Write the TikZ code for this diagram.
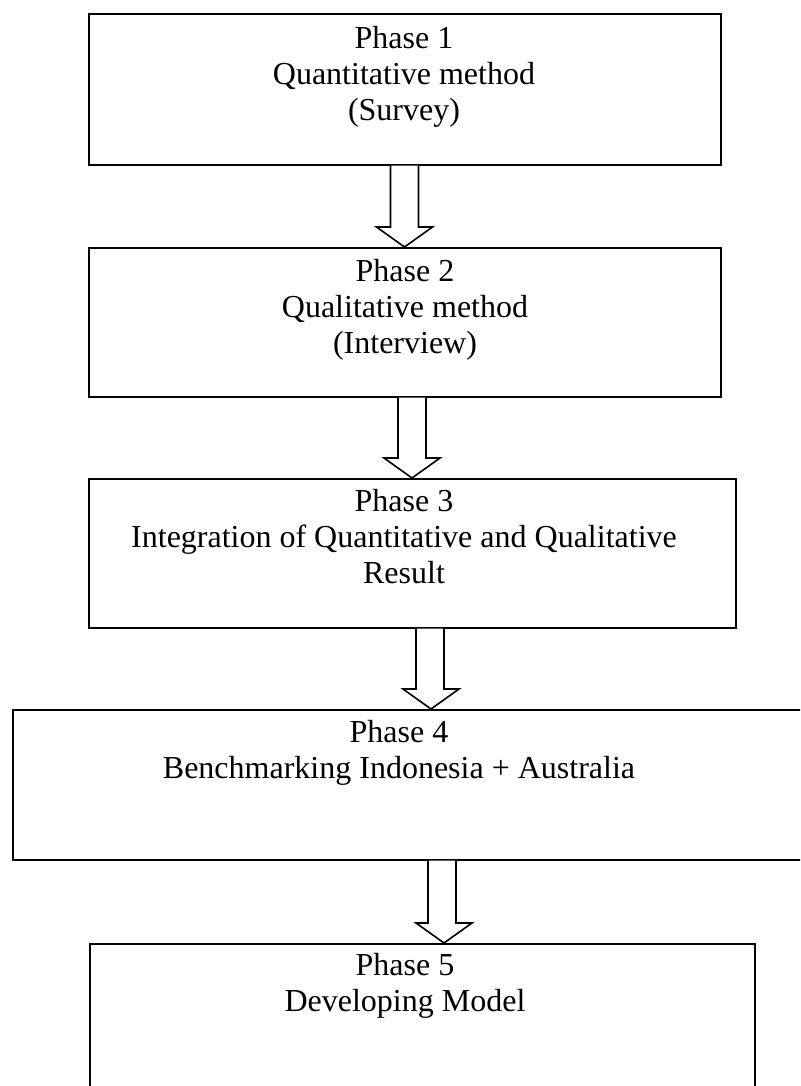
\documentclass[tikz,border=0pt]{standalone}
\usepackage{fontspec}
\setmainfont{Liberation Serif}
\usetikzlibrary{calc}
\tikzset{
  box/.style={draw, line width=1.6pt, minimum width=#1, anchor=north west, inner sep=0pt},
  txt/.style={align=center, inner sep=0pt, anchor=north, font=\fontsize{32}{36}\selectfont},
  blockarrow/.style={draw, line width=1.6pt, fill=white, line join=miter}
}
% #1 start (on upper box), #2 end (tip on lower box)
\newcommand\blockarr[2]{%
  \draw[blockarrow] let \p1=(#1), \p2=(#2) in
    (\x1-14,\y1) -- (\x1-14,\y2+20) -- (\x2-28,\y2+20) -- (\x2,\y2)
    -- (\x2+28,\y2+20) -- (\x1+14,\y2+20) -- (\x1+14,\y1);}
\begin{document}
\begin{tikzpicture}[x=1pt,y=1pt]
\useasboundingbox (0,0) rectangle (800,-1086);
\clip (0,0) rectangle (800,-1086);
% boxes
\node[box=632pt, minimum height=151pt] (b1) at (88,-13) {};
\node[box=632pt, minimum height=149pt] (b2) at (88,-247) {};
\node[box=647pt, minimum height=149pt] (b3) at (88,-478) {};
\node[box=800pt, minimum height=150pt] (b4) at (12,-709) {};
\node[box=665pt, minimum height=160pt] (b5) at (89,-943) {};
% texts
\node[txt] (t1) at (404,-26) {Phase 1\\Quantitative method\\(Survey)};
\node[txt] (t2) at (405,-259) {Phase 2\\Qualitative method\\(Interview)};
\node[txt] (t3) at (404,-489) {Phase 3\\Integration of Quantitative and Qualitative\\Result};
\node[txt] (t4) at (399,-720) {Phase 4\\Benchmarking Indonesia + Australia};
\node[txt] (t5) at (405,-953) {Phase 5\\Developing Model};
% arrow anchor points
\coordinate (a1s) at (b1.south -| 404.5,0);
\coordinate (a1e) at (b2.north -| 404.5,0);
\coordinate (a2s) at (b2.south -| 412,0);
\coordinate (a2e) at (b3.north -| 412,0);
\coordinate (a3s) at (b3.south -| 430,0);
\coordinate (a3e) at (b4.north -| 431,0);
\coordinate (a4s) at (b4.south -| 442,0);
\coordinate (a4e) at (b5.north -| 444,0);
\blockarr{a1s}{a1e}
\blockarr{a2s}{a2e}
\blockarr{a3s}{a3e}
\blockarr{a4s}{a4e}
\end{tikzpicture}
\end{document}
